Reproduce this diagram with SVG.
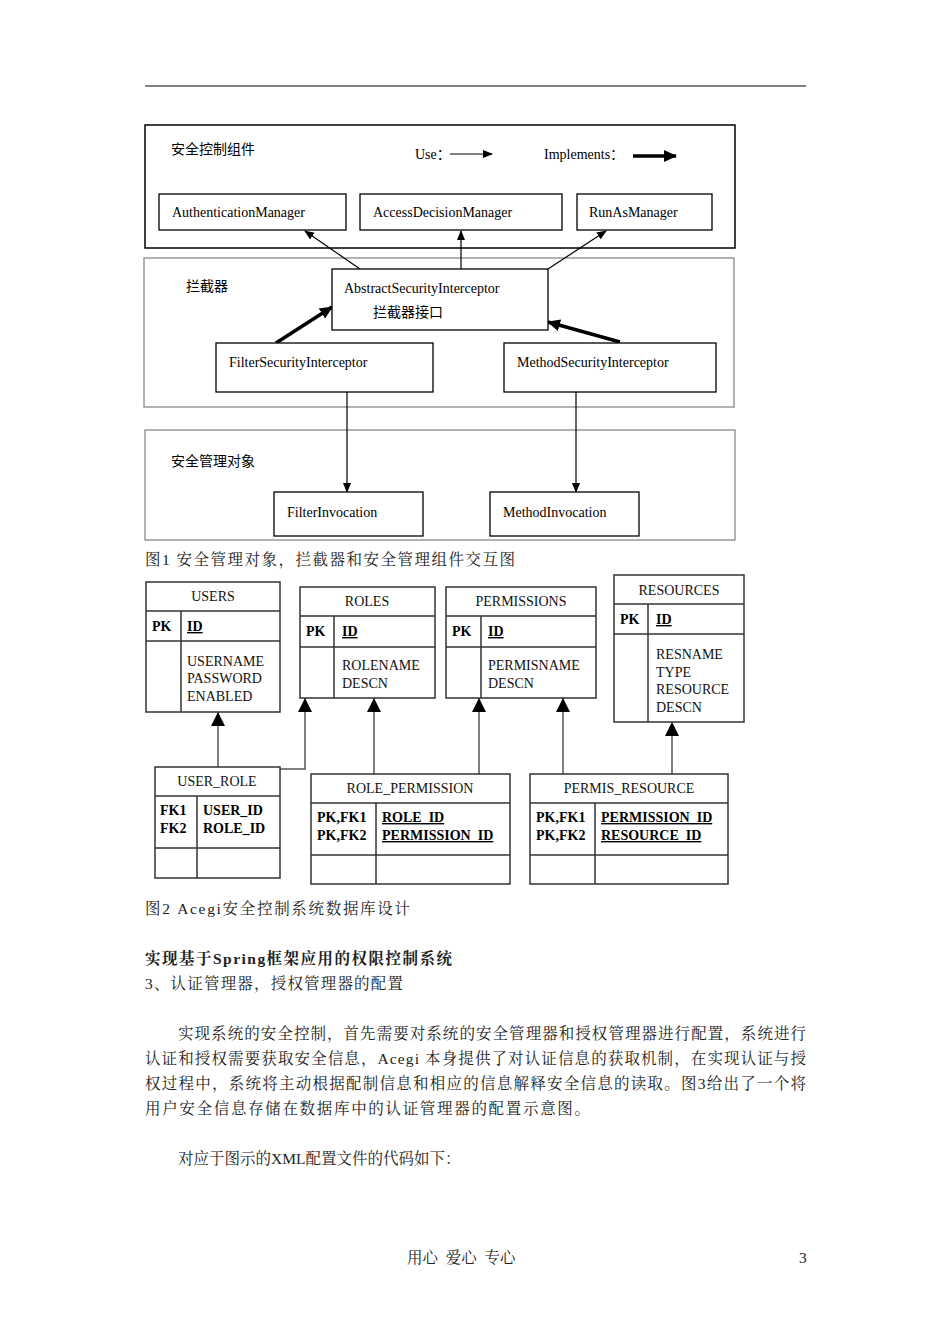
<svg xmlns="http://www.w3.org/2000/svg" width="950" height="1344" viewBox="0 0 950 1344">
<style>
.bg{fill:#fff}
.box{fill:#fff;stroke:#000;stroke-width:1.3}
.frame{fill:none;stroke:#000;stroke-width:1.5}
.gframe{fill:none;stroke:#999;stroke-width:1.5}
.t{font-family:"Liberation Serif","Noto Sans CJK SC",serif;font-size:14px;fill:#000}
.cn{font-family:"Noto Sans CJK SC",sans-serif;font-size:14px;fill:#000}
.er{font-family:"Liberation Serif","Noto Sans CJK SC",serif;font-size:14px;fill:#111}
.erb{font-family:"Liberation Serif",serif;font-size:14px;font-weight:bold;fill:#000}
.tbl{fill:#fff;stroke:#333;stroke-width:1.5}
.tl{stroke:#333;stroke-width:1.5}
.use{stroke:#000;stroke-width:1.2;fill:none}
.impl{stroke:#000;stroke-width:3.5;fill:none}
.erc{stroke:#555;stroke-width:1.5;fill:none}
.body{font-family:"Liberation Serif","Noto Serif CJK SC","Noto Sans CJK SC",serif;font-size:15.5px;fill:#222}
</style>
<defs>
<marker id="ah" markerWidth="10" markerHeight="10" refX="9" refY="5" orient="auto" markerUnits="userSpaceOnUse"><path d="M0,1 L10,5 L0,9 z" fill="#000"/></marker>
<marker id="ahb" markerWidth="14" markerHeight="12" refX="12" refY="6" orient="auto" markerUnits="userSpaceOnUse"><path d="M0,0 L13,6 L0,12 z" fill="#000"/></marker>
<marker id="er" markerWidth="14" markerHeight="14" refX="14" refY="7" orient="auto" markerUnits="userSpaceOnUse"><path d="M0,0 L14,7 L0,14 z" fill="#000"/></marker>
</defs>
<rect class="bg" width="950" height="1344"/>
<line x1="145" y1="86" x2="806" y2="86" stroke="#000" stroke-width="1"/>

<g id="frame-security-components">
<rect class="frame" x="145" y="125" width="590" height="123"/>
<text class="cn" x="171" y="154">安全控制组件</text>
<text class="t" x="415" y="159">Use：</text>
<line class="use" x1="450" y1="154" x2="492" y2="154" marker-end="url(#ah)"/>
<text class="t" x="544" y="159">Implements：</text>
<line class="impl" x1="633" y1="156" x2="676" y2="156" marker-end="url(#ahb)"/>
</g>
<g id="frame-interceptors">
<rect class="gframe" x="144" y="258" width="590" height="149"/>
<text class="cn" x="186" y="291">拦截器</text>
</g>
<g id="frame-secure-objects">
<rect class="gframe" x="145" y="430" width="590" height="110"/>
<text class="cn" x="171" y="466">安全管理对象</text>
</g>

<g id="connectors-fig1">
<line class="use" x1="360" y1="269" x2="305" y2="231" marker-end="url(#ah)"/>
<line class="use" x1="461" y1="269" x2="461" y2="231" marker-end="url(#ah)"/>
<line class="use" x1="548" y1="269" x2="606" y2="231" marker-end="url(#ah)"/>
<line class="impl" x1="276" y1="343" x2="332" y2="307" marker-end="url(#ahb)"/>
<line class="impl" x1="620" y1="342" x2="548" y2="322" marker-end="url(#ahb)"/>
<line class="use" x1="347" y1="392" x2="347" y2="492" marker-end="url(#ah)"/>
<line class="use" x1="576" y1="392" x2="576" y2="492" marker-end="url(#ah)"/>
</g>

<g id="AuthenticationManager"><rect class="box" x="159" y="194" width="187" height="36"/><text class="t" x="172" y="217">AuthenticationManager</text></g>
<g id="AccessDecisionManager"><rect class="box" x="360" y="194" width="202" height="36"/><text class="t" x="373" y="217">AccessDecisionManager</text></g>
<g id="RunAsManager"><rect class="box" x="577" y="194" width="135" height="36"/><text class="t" x="589" y="217">RunAsManager</text></g>
<g id="AbstractSecurityInterceptor"><rect class="box" x="332" y="269" width="216" height="61"/><text class="t" x="344" y="293">AbstractSecurityInterceptor</text><text class="cn" x="373" y="317">拦截器接口</text></g>
<g id="FilterSecurityInterceptor"><rect class="box" x="216" y="343" width="217" height="49"/><text class="t" x="229" y="367">FilterSecurityInterceptor</text></g>
<g id="MethodSecurityInterceptor"><rect class="box" x="504" y="343" width="212" height="49"/><text class="t" x="517" y="367">MethodSecurityInterceptor</text></g>
<g id="FilterInvocation"><rect class="box" x="274" y="492" width="149" height="44"/><text class="t" x="287" y="517">FilterInvocation</text></g>
<g id="MethodInvocation"><rect class="box" x="490" y="492" width="149" height="44"/><text class="t" x="503" y="517">MethodInvocation</text></g>

<text class="body" x="145" y="565" textLength="370" lengthAdjust="spacing">图1 安全管理对象，拦截器和安全管理组件交互图</text>

<g id="connectors-fig2">
<line class="erc" x1="218" y1="767" x2="218" y2="712" marker-end="url(#er)"/>
<polyline class="erc" points="280,769 305,769 305,698" marker-end="url(#er)"/>
<line class="erc" x1="374" y1="774" x2="374" y2="698" marker-end="url(#er)"/>
<line class="erc" x1="479" y1="774" x2="479" y2="698" marker-end="url(#er)"/>
<line class="erc" x1="563" y1="774" x2="563" y2="698" marker-end="url(#er)"/>
<line class="erc" x1="672" y1="774" x2="672" y2="722" marker-end="url(#er)"/>
</g>

<g id="USERS">
<rect class="tbl" x="146" y="582" width="134" height="130"/>
<line class="tl" x1="146" y1="611" x2="280" y2="611"/>
<line class="tl" x1="146" y1="641" x2="280" y2="641"/>
<line class="tl" x1="181" y1="611" x2="181" y2="712"/>
<text class="er" x="213" y="601" text-anchor="middle">USERS</text>
<text class="erb" x="152" y="631">PK</text>
<text class="erb" x="187" y="631" text-decoration="underline">ID</text>
<text class="er" x="187" y="666">USERNAME</text>
<text class="er" x="187" y="683">PASSWORD</text>
<text class="er" x="187" y="701">ENABLED</text>
</g>
<g id="ROLES">
<rect class="tbl" x="300" y="587" width="135" height="111"/>
<line class="tl" x1="300" y1="616" x2="435" y2="616"/>
<line class="tl" x1="300" y1="647" x2="435" y2="647"/>
<line class="tl" x1="334" y1="616" x2="334" y2="698"/>
<text class="er" x="367" y="606" text-anchor="middle">ROLES</text>
<text class="erb" x="306" y="636">PK</text>
<text class="erb" x="342" y="636" text-decoration="underline">ID</text>
<text class="er" x="342" y="670">ROLENAME</text>
<text class="er" x="342" y="688">DESCN</text>
</g>
<g id="PERMISSIONS">
<rect class="tbl" x="446" y="587" width="150" height="111"/>
<line class="tl" x1="446" y1="616" x2="596" y2="616"/>
<line class="tl" x1="446" y1="647" x2="596" y2="647"/>
<line class="tl" x1="481" y1="616" x2="481" y2="698"/>
<text class="er" x="521" y="606" text-anchor="middle">PERMISSIONS</text>
<text class="erb" x="452" y="636">PK</text>
<text class="erb" x="488" y="636" text-decoration="underline">ID</text>
<text class="er" x="488" y="670">PERMISNAME</text>
<text class="er" x="488" y="688">DESCN</text>
</g>
<g id="RESOURCES">
<rect class="tbl" x="614" y="575" width="130" height="147"/>
<line class="tl" x1="614" y1="604" x2="744" y2="604"/>
<line class="tl" x1="614" y1="634" x2="744" y2="634"/>
<line class="tl" x1="648" y1="604" x2="648" y2="722"/>
<text class="er" x="679" y="595" text-anchor="middle">RESOURCES</text>
<text class="erb" x="620" y="624">PK</text>
<text class="erb" x="656" y="624" text-decoration="underline">ID</text>
<text class="er" x="656" y="659">RESNAME</text>
<text class="er" x="656" y="677">TYPE</text>
<text class="er" x="656" y="694">RESOURCE</text>
<text class="er" x="656" y="712">DESCN</text>
</g>
<g id="USER_ROLE">
<rect class="tbl" x="155" y="767" width="125" height="111"/>
<line class="tl" x1="155" y1="796" x2="280" y2="796"/>
<line class="tl" x1="155" y1="848" x2="280" y2="848"/>
<line class="tl" x1="197" y1="796" x2="197" y2="878"/>
<text class="er" x="217" y="786" text-anchor="middle">USER_ROLE</text>
<text class="erb" x="160" y="815">FK1</text>
<text class="erb" x="160" y="833">FK2</text>
<text class="erb" x="203" y="815">USER_ID</text>
<text class="erb" x="203" y="833">ROLE_ID</text>
</g>
<g id="ROLE_PERMISSION">
<rect class="tbl" x="311" y="774" width="199" height="110"/>
<line class="tl" x1="311" y1="803" x2="510" y2="803"/>
<line class="tl" x1="311" y1="855" x2="510" y2="855"/>
<line class="tl" x1="376" y1="803" x2="376" y2="884"/>
<text class="er" x="410" y="793" text-anchor="middle">ROLE_PERMISSION</text>
<text class="erb" x="317" y="822">PK,FK1</text>
<text class="erb" x="317" y="840">PK,FK2</text>
<text class="erb" x="382" y="822" text-decoration="underline">ROLE_ID</text>
<text class="erb" x="382" y="840" text-decoration="underline">PERMISSION_ID</text>
</g>
<g id="PERMIS_RESOURCE">
<rect class="tbl" x="530" y="774" width="198" height="110"/>
<line class="tl" x1="530" y1="803" x2="728" y2="803"/>
<line class="tl" x1="530" y1="855" x2="728" y2="855"/>
<line class="tl" x1="595" y1="803" x2="595" y2="884"/>
<text class="er" x="629" y="793" text-anchor="middle">PERMIS_RESOURCE</text>
<text class="erb" x="536" y="822">PK,FK1</text>
<text class="erb" x="536" y="840">PK,FK2</text>
<text class="erb" x="601" y="822" text-decoration="underline">PERMISSION_ID</text>
<text class="erb" x="601" y="840" text-decoration="underline">RESOURCE_ID</text>
</g>

<text class="body" x="145" y="914" textLength="265" lengthAdjust="spacing">图2 Acegi安全控制系统数据库设计</text>

<text class="body" x="145" y="964" font-weight="bold" fill="#000" textLength="307" lengthAdjust="spacing">实现基于Spring框架应用的权限控制系统</text>
<text class="body" x="145" y="989" textLength="258" lengthAdjust="spacing">3、认证管理器，授权管理器的配置</text>
<text class="body" x="178" y="1039" textLength="628" lengthAdjust="spacing">实现系统的安全控制，首先需要对系统的安全管理器和授权管理器进行配置，系统进行</text>
<text class="body" x="145" y="1064" textLength="661" lengthAdjust="spacing">认证和授权需要获取安全信息，Acegi 本身提供了对认证信息的获取机制，在实现认证与授</text>
<text class="body" x="145" y="1089" textLength="661" lengthAdjust="spacing">权过程中，系统将主动根据配制信息和相应的信息解释安全信息的读取。图3给出了一个将</text>
<text class="body" x="145" y="1114" textLength="445" lengthAdjust="spacing">用户安全信息存储在数据库中的认证管理器的配置示意图。</text>
<text class="body" x="178" y="1164">对应于图示的XML配置文件的代码如下：</text>

<text class="body" x="407" y="1263" font-size="14" xml:space="preserve">用心  爱心  专心</text>
<text class="body" x="799" y="1263" font-size="14">3</text>
</svg>
